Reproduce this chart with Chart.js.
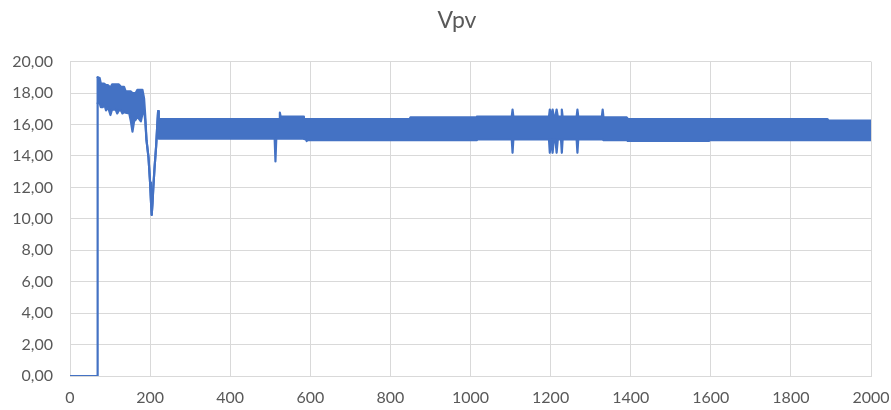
<!DOCTYPE html>
<html>
<head>
<meta charset="utf-8">
<title>Vpv</title>
<script src="https://cdn.jsdelivr.net/npm/chart.js@4/dist/chart.umd.min.js"></script>
<style>
  html, body { margin: 0; padding: 0; background: #ffffff; }
  canvas { display: block; }
</style>
</head>
<body>
<canvas id="c" width="891" height="410"></canvas>
<script>
// Panel off, then the switch-on jump
const offX = [0, 68, 69];
const offY = [0, 0, 19.0];

// After switch-on the voltage oscillates fast; it is drawn as its upper and lower
// envelope (equal values where it is a single swing, e.g. the dip near 204)
const envX = [69, 74, 77, 82, 85, 90, 95, 101, 105, 114, 118, 122, 127, 131, 135, 139, 148, 152, 156, 160,
  164, 168, 177, 181, 185, 188, 191, 196, 200, 202, 204, 206, 208, 211, 215, 218, 220, 221,
  222, 511, 513, 515, 522, 524, 526, 582, 584, 589, 591, 593, 848, 850, 1014, 1016,
  1103, 1105, 1107, 1196, 1198, 1201, 1203, 1205, 1208, 1212, 1215, 1218, 1226, 1228, 1230,
  1265, 1267, 1269, 1328, 1330, 1332, 1390, 1393, 1595, 1598, 1891, 1894, 2000];
const envHigh = [19.0, 18.95, 18.6, 18.6, 18.6, 18.5, 18.5, 18.35, 18.55, 18.55, 18.55, 18.55, 18.4, 18.4, 18.4, 18.1, 18.1, 18.1, 18.0, 18.0,
  18.0, 18.2, 18.2, 18.2, 17.65, 16.5, 15.0, 13.9, 12.3, 11.2, 10.25, 11.0, 12.0, 13.2, 14.6, 16.0, 16.85, 15.6,
  16.35, 16.35, 16.35, 16.35, 16.35, 16.75, 16.5, 16.5, 16.35, 16.35, 16.35, 16.35, 16.35, 16.45, 16.45, 16.5,
  16.5, 16.95, 16.5, 16.5, 16.95, 16.5, 16.5, 16.95, 16.5, 16.5, 16.95, 16.5, 16.5, 16.95, 16.5,
  16.5, 16.95, 16.5, 16.5, 16.95, 16.45, 16.45, 16.35, 16.35, 16.35, 16.35, 16.25, 16.25];
const envLow = [17.35, 17.35, 17.1, 17.1, 17.35, 16.9, 17.1, 16.6, 16.95, 16.95, 16.7, 16.9, 16.9, 16.7, 16.8, 16.75, 16.7, 16.2, 15.55, 16.2,
  16.3, 16.5, 16.2, 16.7, 16.9, 16.2, 15.0, 13.9, 12.3, 11.2, 10.25, 11.0, 12.0, 13.2, 14.6, 16.0, 16.85, 15.6,
  15.1, 15.1, 13.65, 15.1, 15.1, 15.1, 15.1, 15.1, 15.1, 15.05, 14.95, 15.0, 15.0, 15.0, 15.0, 15.05,
  15.05, 14.2, 15.05, 15.05, 14.2, 15.05, 15.05, 14.2, 15.05, 15.05, 14.2, 15.05, 15.05, 14.2, 15.05,
  15.05, 14.2, 15.05, 15.05, 15.05, 15.0, 15.0, 14.95, 14.95, 15.0, 15.0, 15.0, 15.0];

const xTicks = [0, 200, 400, 600, 800, 1000, 1200, 1400, 1600, 1800, 2000];
const yTicks = [0, 2, 4, 6, 8, 10, 12, 14, 16, 18, 20];

const BLUE = '#4472C4';
const GRID = '#D9D9D9';
const TEXT = '#595959';
const FONT = 'Lato, "Liberation Sans", sans-serif';

const pts = (xs, ys) => xs.map((x, i) => ({ x: x, y: ys[i] }));

function lineSet(label, xs, ys, fill) {
  return {
    label: label,
    data: pts(xs, ys),
    borderColor: BLUE,
    backgroundColor: BLUE,
    borderWidth: 2.2,
    borderJoinStyle: 'round',
    borderCapStyle: 'round',
    pointRadius: 0,
    tension: 0,
    fill: fill
  };
}

new Chart(document.getElementById('c'), {
  type: 'line',
  data: {
    datasets: [
      lineSet('Vpv', offX, offY, false),
      lineSet('Vpv max', envX, envHigh, false),
      lineSet('Vpv min', envX, envLow, '-1')
    ]
  },
  options: {
    responsive: false,
    animation: false,
    devicePixelRatio: 1,
    layout: { padding: { left: 43, right: 20, top: 0, bottom: 0 } },
    plugins: {
      legend: { display: false },
      tooltip: { enabled: false },
      title: {
        display: true,
        text: 'Vpv',
        color: TEXT,
        font: { family: FONT, size: 23, weight: 'normal' },
        padding: { top: 7, bottom: 27 }
      }
    },
    scales: {
      x: {
        type: 'linear',
        min: 0,
        max: 2000,
        afterBuildTicks: (scale) => { scale.ticks = xTicks.map(v => ({ value: v })); },
        ticks: {
          color: TEXT,
          font: { family: FONT, size: 16 },
          padding: 12,
          maxRotation: 0,
          callback: (v) => String(v)
        },
        grid: { color: GRID, lineWidth: 1, drawTicks: false },
        border: { color: GRID, width: 1 },
        afterFit: (scale) => {
          scale.height = 34;
          scale.paddingLeft = 0;
          scale.paddingRight = 0;
        }
      },
      y: {
        type: 'linear',
        min: 0,
        max: 20,
        afterBuildTicks: (scale) => { scale.ticks = yTicks.map(v => ({ value: v })); },
        ticks: {
          color: TEXT,
          font: { family: FONT, size: 16 },
          padding: 17,
          callback: (v) => v.toFixed(2).replace('.', ',')
        },
        grid: { color: GRID, lineWidth: 1, drawTicks: false },
        border: { color: GRID, width: 1 },
        afterFit: (scale) => {
          scale.width = 27;
          scale.paddingTop = 0;
          scale.paddingBottom = 0;
          // the value labels reach left of this narrow box; let them draw unclipped
          scale._computeLabelArea = () => undefined;
        }
      }
    }
  }
});
</script>
</body>
</html>
